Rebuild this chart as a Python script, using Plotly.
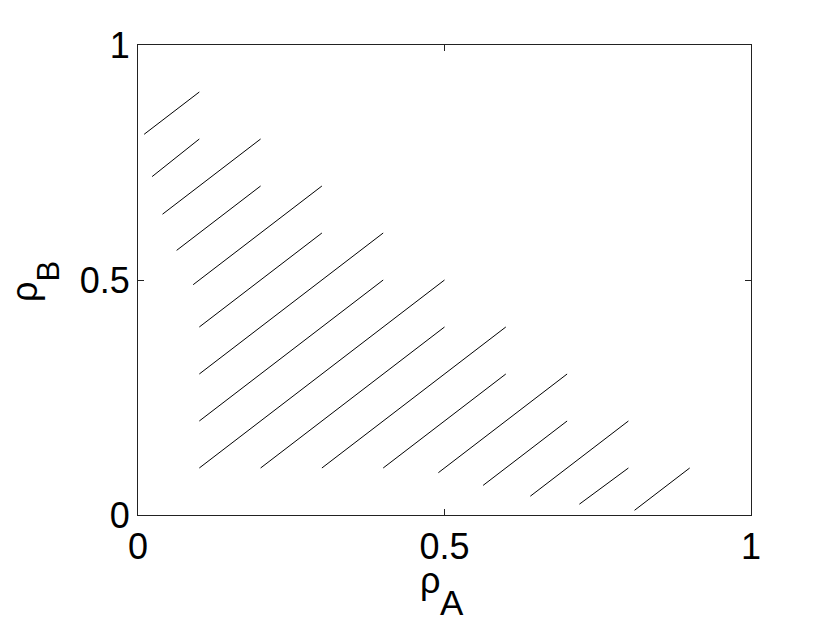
import plotly.graph_objects as go

# Hatch segments (start and end points, data coordinates)
seg_x0 = [0.01, 0.023, 0.04, 0.063, 0.09, 0.10, 0.10, 0.10, 0.10, 0.20, 0.30, 0.40, 0.49, 0.563, 0.64, 0.72, 0.81]
seg_y0 = [0.81, 0.72, 0.64, 0.563, 0.49, 0.40, 0.30, 0.20, 0.10, 0.10, 0.10, 0.10, 0.09, 0.063, 0.04, 0.023, 0.01]
seg_x1 = [0.10, 0.10, 0.20, 0.20, 0.30, 0.30, 0.40, 0.40, 0.50, 0.50, 0.60, 0.60, 0.70, 0.70, 0.80, 0.80, 0.90]
seg_y1 = [0.90, 0.80, 0.80, 0.70, 0.70, 0.60, 0.60, 0.50, 0.50, 0.40, 0.40, 0.30, 0.30, 0.20, 0.20, 0.10, 0.10]

tick_vals = [0, 0.5, 1]
tick_text = ["0", "0.5", "1"]

x_title_main, x_title_sub = "ρ", "A"
y_title_main, y_title_sub = "ρ", "B"

xs, ys = [], []
for a, b, c, d in zip(seg_x0, seg_y0, seg_x1, seg_y1):
    xs += [a, c, None]
    ys += [b, d, None]

fig = go.Figure()
fig.add_trace(go.Scatter(x=xs, y=ys, mode="lines",
                         line=dict(color="black", width=1), hoverinfo="skip",
                         showlegend=False, connectgaps=False))

FAM = "Liberation Sans, Arial, Helvetica, sans-serif"
font = dict(family=FAM, size=36, color="black")

axis_common = dict(
    range=[0, 1], tickvals=tick_vals, ticktext=tick_text,
    showgrid=False, zeroline=False, showline=True, linecolor="#222222", linewidth=1,
    mirror="ticks", ticks="inside", ticklen=6, tickcolor="#222222", tickwidth=1,
    tickfont=font, ticklabelstandoff=0,
)

# page body adds an 8px offset; plot area target: x 138..751, y 45..515
fig.update_layout(
    width=822, height=615,
    margin=dict(l=130, r=79, t=37, b=108),
    paper_bgcolor="white", plot_bgcolor="white",
    font=font,
    xaxis=dict(**axis_common),
    yaxis=dict(**axis_common),
)

ann = dict(xref="paper", yref="paper", showarrow=False, xanchor="center", yanchor="middle")
fig.add_annotation(text=x_title_main, x=0.4763, y=-0.1394, font=dict(family=FAM, size=36, color="black"), **ann)
fig.add_annotation(text=x_title_sub, x=0.5130, y=-0.1872, font=dict(family=FAM, size=35, color="black"), **ann)
fig.add_annotation(text=y_title_main, x=-0.1852, y=0.4755, textangle=-90, font=dict(family=FAM, size=36, color="black"), **ann)
fig.add_annotation(text=y_title_sub, x=-0.1452, y=0.5202, textangle=-90, font=dict(family=FAM, size=31, color="black"), **ann)

fig.write_html("out.html")
